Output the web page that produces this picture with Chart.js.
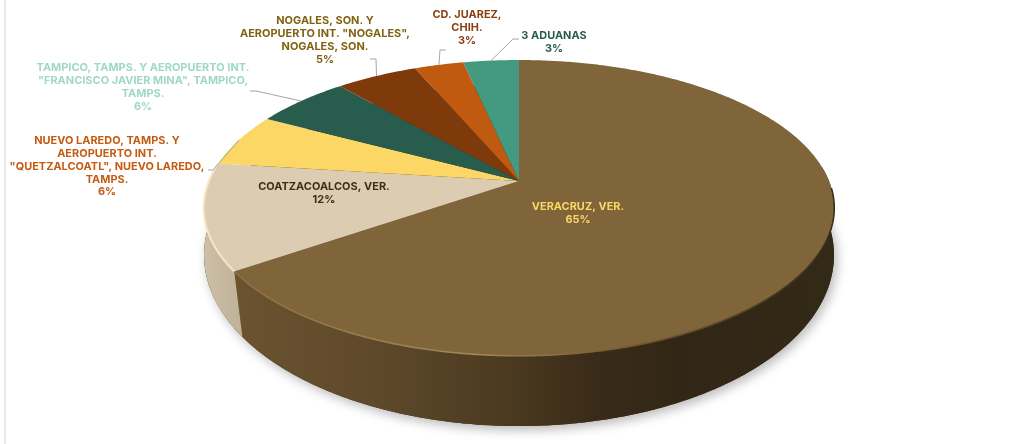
<!DOCTYPE html>
<html>
<head>
<meta charset="utf-8">
<title>Aduanas</title>
<script src="https://cdn.jsdelivr.net/npm/chart.js@4"></script>
<style>
  html, body { margin: 0; padding: 0; background: #fff; overflow: hidden; }
  #wrap { position: relative; width: 1034px; height: 444px; }
  #wrap:before { content: ''; position: absolute; left: 4px; top: 0; bottom: 0; width: 2px; background: #e8e8e8; }
  canvas { position: absolute; left: 0; top: 0; }
</style>
</head>
<body>
<div id="wrap"><canvas id="myChart" width="1034" height="444"></canvas></div>
<script>
const categories = [
  'VERACRUZ, VER.',
  'COATZACOALCOS, VER.',
  'NUEVO LAREDO, TAMPS. Y AEROPUERTO INT. "QUETZALCOATL", NUEVO LAREDO, TAMPS.',
  'TAMPICO, TAMPS. Y AEROPUERTO INT. "FRANCISCO JAVIER MINA", TAMPICO, TAMPS.',
  'NOGALES, SON. Y AEROPUERTO INT. "NOGALES", NOGALES, SON.',
  'CD. JUAREZ, CHIH.',
  '3 ADUANAS'
]
const shares = [65.4, 11.6, 5.8, 5.8, 5.0, 3.0, 3.4]
const labelLines = [
  ['VERACRUZ, VER.'],
  ['COATZACOALCOS, VER.'],
  ['NUEVO LAREDO, TAMPS. Y', 'AEROPUERTO INT.', '"QUETZALCOATL", NUEVO LAREDO,', 'TAMPS.'],
  ['TAMPICO, TAMPS. Y AEROPUERTO INT.', '"FRANCISCO JAVIER MINA", TAMPICO,', 'TAMPS.'],
  ['NOGALES, SON. Y', 'AEROPUERTO INT. "NOGALES",', 'NOGALES, SON.'],
  ['CD. JUAREZ,', 'CHIH.'],
  ['3 ADUANAS']
]

// styling and layout
const sliceColors = ['#7f6539', '#dccdb2', '#fcd766', '#285c4d', '#7f3a0c', '#bf5a10', '#439a80']
const labelColors = ['#fcd766', '#3d3010', '#c55a11', '#9fd8c3', '#7f6310', '#8a3e10', '#285c4d']
const labelCenters = [[578, 207], [324, 187], [107, 141], [143, 68], [325, 21], [467, 15], [554, 36]]
const lineHeight = 12.8
// elbow and tail of the leader lines, by slice index
const leaders = { 2: [[213, 170], [208, 170]], 3: [[256, 91], [250, 91]], 4: [[376, 59], [370, 59]], 5: [[440, 50], [446, 50]], 6: [[513, 39], [519, 39]] }

// perspective disc: k tilts the circle, so the apex sits above the ellipse centre
const k = 0.182
const topFace = { rx: 310, ry: 143, dy: 0 }
const bottomFace = { rx: 309.7, ry: 165.3, dy: 43 }
// the wall seam leans a little, bottom end sits further round the disc
const seamLean = 0.05

function project(arc, angle, face) {
  const u = Math.cos(angle)
  const v = Math.sin(angle)
  const w = 1 - k * v
  return [arc.x + face.rx * u / w, arc.y + face.dy + face.ry * v / w]
}

function trace(ctx, arc, from, to, face, first) {
  const steps = Math.max(2, Math.ceil(Math.abs(to - from) / 0.01))
  for (let i = 0; i <= steps; i++) {
    const p = project(arc, from + (to - from) * i / steps, face)
    if (i === 0 && first) ctx.moveTo(p[0], p[1])
    else ctx.lineTo(p[0], p[1])
  }
}

function sideFill(ctx, index) {
  const g = ctx.createLinearGradient(204, 0, 834, 0)
  if (index === 0) {
    g.addColorStop(0.05, '#6b5330')
    g.addColorStop(0.3, '#5c4729')
    g.addColorStop(0.48, '#4b3a20')
    g.addColorStop(0.62, '#3a2b19')
    g.addColorStop(0.75, '#322716')
    g.addColorStop(1, '#332917')
  } else {
    g.addColorStop(0, '#cdbfa5')
    g.addColorStop(0.06, '#bfb299')
  }
  return g
}

const disc3d = {
  id: 'disc3d',
  beforeDatasetDraw(chart) {
    const ctx = chart.ctx
    const arcs = chart.getDatasetMeta(0).data
    const first = arcs[0]

    // soft shadow under the disc
    ctx.save()
    ctx.shadowColor = 'rgba(0,0,0,0.28)'
    ctx.shadowBlur = 11
    ctx.shadowOffsetX = 3
    ctx.shadowOffsetY = 4
    ctx.fillStyle = '#3a2e1a'
    ctx.beginPath()
    trace(ctx, first, 0, Math.PI * 2, bottomFace, true)
    ctx.closePath()
    ctx.fill()
    ctx.restore()

    // side walls, front part only
    arcs.forEach((arc, i) => {
      if (i > 1) return
      const from = Math.max(arc.startAngle, -0.1)
      const to = Math.min(arc.endAngle, Math.PI + 0.25)
      if (to <= from) return
      ctx.beginPath()
      trace(ctx, arc, from, to, topFace, true)
      if (i === 0) trace(ctx, arc, to - seamLean, from, bottomFace, false)
      else trace(ctx, arc, to, from - seamLean, bottomFace, false)
      ctx.closePath()
      ctx.fillStyle = sideFill(ctx, i)
      ctx.fill()
    })

    // top faces
    arcs.forEach(arc => {
      ctx.beginPath()
      ctx.moveTo(arc.x, arc.y)
      trace(ctx, arc, arc.startAngle, arc.endAngle, topFace, false)
      ctx.closePath()
      ctx.fillStyle = arc.options.backgroundColor
      ctx.fill()
    })

    // bevel along the front rim
    const rim = ctx.createLinearGradient(232, 0, 834, 0)
    rim.addColorStop(0, '#8a6f42')
    rim.addColorStop(0.4, '#a38957')
    rim.addColorStop(0.58, '#7f6539')
    rim.addColorStop(0.8, '#5a4729')
    rim.addColorStop(1, '#3a2e18')
    ctx.lineWidth = 1.6
    ctx.strokeStyle = rim
    ctx.beginPath()
    trace(ctx, arcs[0], 0.05, arcs[0].endAngle, topFace, true)
    ctx.stroke()
    ctx.lineWidth = 2
    ctx.strokeStyle = '#f6e6c4'
    ctx.beginPath()
    trace(ctx, arcs[1], arcs[1].startAngle, arcs[1].endAngle, topFace, true)
    ctx.stroke()

    return false
  },
  afterDatasetsDraw(chart) {
    const ctx = chart.ctx
    const arcs = chart.getDatasetMeta(0).data

    ctx.save()
    ctx.strokeStyle = '#a6a6a6'
    ctx.lineWidth = 1
    Object.keys(leaders).forEach(i => {
      const arc = arcs[i]
      const end = project(arc, (arc.startAngle + arc.endAngle) / 2, topFace)
      ctx.beginPath()
      ctx.moveTo(end[0], end[1])
      leaders[i].forEach(p => ctx.lineTo(p[0], p[1]))
      ctx.stroke()
    })

    ctx.font = '700 10.9px Inter'
    ctx.letterSpacing = '0.05px'
    ctx.textAlign = 'center'
    ctx.textBaseline = 'middle'
    labelLines.forEach((lines, i) => {
      ctx.fillStyle = labelColors[i]
      const text = lines.concat(Math.round(shares[i]) + '%')
      text.forEach((line, j) => {
        ctx.fillText(line, labelCenters[i][0], labelCenters[i][1] + j * lineHeight)
      })
    })
    ctx.restore()
  }
}

new Chart(document.getElementById('myChart'), {
  type: 'pie',
  data: {
    labels: categories,
    datasets: [{
      data: shares,
      backgroundColor: sliceColors,
      borderWidth: 0
    }]
  },
  options: {
    responsive: false,
    animation: false,
    devicePixelRatio: 1,
    layout: { padding: { left: 4, bottom: 82 } },
    plugins: { legend: { display: false }, tooltip: { enabled: false } }
  },
  plugins: [disc3d]
})
</script>
</body>
</html>
